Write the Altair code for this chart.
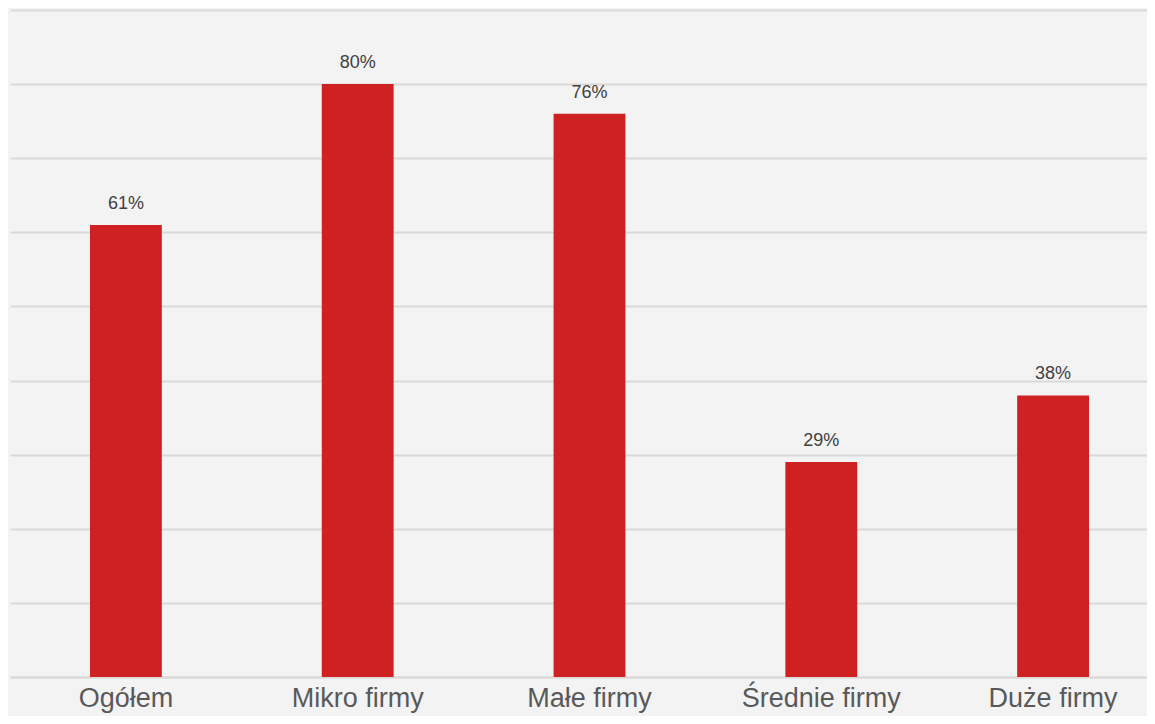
import altair as alt
import pandas as pd

categories = ["Ogółem", "Mikro firmy", "Małe firmy", "Średnie firmy", "Duże firmy"]
values = [61, 80, 76, 29, 38]
labels = ["61%", "80%", "76%", "29%", "38%"]

df = pd.DataFrame({"cat": categories, "val": values, "lab": labels})

x = alt.X("cat:N", sort=categories, title=None,
          scale=alt.Scale(range=[2, 1161], paddingInner=0.69, paddingOuter=0.345),
          axis=alt.Axis(labelAngle=0, labelFontSize=27, labelColor="#595959",
                        labelFont="Liberation Sans", labelPadding=8, labelBaseline="top",
                        ticks=False, domainColor="#d9d9d9", domainWidth=2, grid=False))
y = alt.Y("val:Q", title=None,
          scale=alt.Scale(domain=[0, 90], nice=False),
          axis=alt.Axis(labels=False, ticks=False, domain=False,
                        values=[0, 10, 20, 30, 40, 50, 60, 70, 80, 90],
                        gridColor="#d9d9d9", gridWidth=2))

bars = alt.Chart(df).mark_bar(color="#cf2121").encode(x=x, y=y)
text = alt.Chart(df).mark_text(fontSize=18, color="#404040", font="Liberation Sans",
                               baseline="alphabetic", dy=-16).encode(
    x=alt.X("cat:N", sort=categories), y="val:Q", text="lab:N")

chart = (bars + text).properties(
    width=1139, height=667,
    background="#f3f3f3",
    autosize=alt.AutoSizeParams(type="none"),
    padding={"left": 0, "top": 2, "right": 0, "bottom": 39},
).configure_view(stroke=None)

chart.save("out.html", embed_options={"renderer": "svg", "actions": False})
